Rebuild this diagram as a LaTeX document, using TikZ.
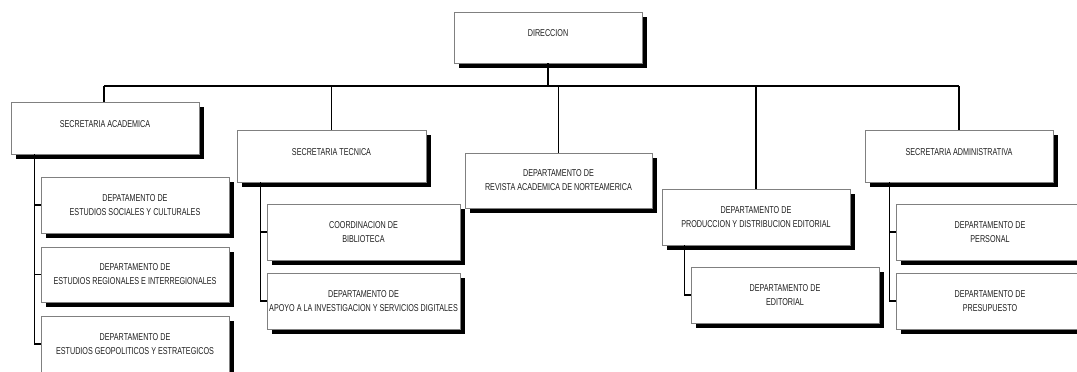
\documentclass[tikz,border=0pt]{standalone}
\usepackage{fontspec}
\newfontfamily\orgfont[FakeStretch=0.72]{Liberation Sans}
\usetikzlibrary{shadows}
\definecolor{boxline}{HTML}{808080}
\definecolor{boxtext}{HTML}{202020}
\begin{document}
\begin{tikzpicture}[x=1pt,y=-1pt,
  orgbox/.style={draw=boxline, line width=0.8pt, fill=white, align=center,
    minimum width=188pt, minimum height=56pt, inner sep=0pt,
    text=boxtext, font=\orgfont\fontsize{10}{14}\selectfont,
    drop shadow={shadow xshift=4.5pt, shadow yshift=-4.5pt, fill=black, opacity=1}},
  headbox/.style={orgbox, minimum height=52pt, text depth=8pt},
  link/.style={draw=black, line width=1.7pt}]
\useasboundingbox (0,0) rectangle (1077,372);

% top
\node[headbox, minimum height=51pt] (dir) at (548,37.5) {DIRECCION};

% secretaria academica
\node[headbox] (sa) at (105,128) {SECRETARIA ACADEMICA};
\node[orgbox] (sa1) at (135,205) {DEPATAMENTO DE\\ESTUDIOS SOCIALES Y CULTURALES};
\node[orgbox, minimum height=55pt] (sa2) at (135,274.5) {DEPARTAMENTO DE\\ESTUDIOS REGIONALES E INTERREGIONALES};
\node[orgbox] (sa3) at (135,344) {DEPARTAMENTO DE\\ESTUDIOS GEOPOLITICOS Y ESTRATEGICOS};

% secretaria tecnica
\node[headbox, minimum width=189pt] (st) at (331.5,156) {SECRETARIA TECNICA};
\node[orgbox, minimum width=193pt] (st1) at (363.5,232) {COORDINACION DE\\BIBLIOTECA};
\node[orgbox, minimum width=193pt] (st2) at (363.5,301) {DEPARTAMENTO DE\\APOYO A LA INVESTIGACION Y SERVICIOS DIGITALES};

% revista
\node[orgbox, minimum width=187pt, minimum height=55pt] (rev) at (558.5,180.5) {DEPARTAMENTO DE\\REVISTA ACADEMICA DE NORTEAMERICA};

% produccion
\node[orgbox] (pro) at (756,217) {DEPARTAMENTO DE\\PRODUCCION Y DISTRIBUCION EDITORIAL};
\node[orgbox] (edi) at (785,295) {DEPARTAMENTO DE\\EDITORIAL};

% secretaria administrativa
\node[headbox] (adm) at (959,156) {SECRETARIA ADMINISTRATIVA};
\node[orgbox] (adm1) at (990,232) {DEPARTAMENTO DE\\PERSONAL};
\node[orgbox] (adm2) at (990,301) {DEPARTAMENTO DE\\PRESUPUESTO};

% main bus
\coordinate (busL) at (104,86);
\coordinate (busR) at (959,86);
\draw[link] (busL) -- (busR);
\draw[link] (dir.south) -- (dir.south |- busL);
\draw[link] (sa.north -| busL) -- (busL);
\draw[link] (st.north) -- (st.north |- busL);
\draw[link] (rev.north) -- (rev.north |- busL);
\draw[link] (pro.north) -- (pro.north |- busL);
\draw[link] (adm.north) -- (busR);

% spines
\coordinate (saS) at ([xshift=24pt]sa.south west);
\draw[link] (saS) |- (sa3.west);
\draw[link] (saS |- sa1.west) -- (sa1.west);
\draw[link] (saS |- sa2.west) -- (sa2.west);

\coordinate (stS) at ([xshift=24pt]st.south west);
\draw[link] (stS) |- (st2.west);
\draw[link] (stS |- st1.west) -- (st1.west);

\coordinate (proS) at ([xshift=23pt]pro.south west);
\draw[link] (proS) |- (edi.west);

\coordinate (admS) at ([xshift=25pt]adm.south west);
\draw[link] (admS) |- (adm2.west);
\draw[link] (admS |- adm1.west) -- (adm1.west);
\end{tikzpicture}
\end{document}
